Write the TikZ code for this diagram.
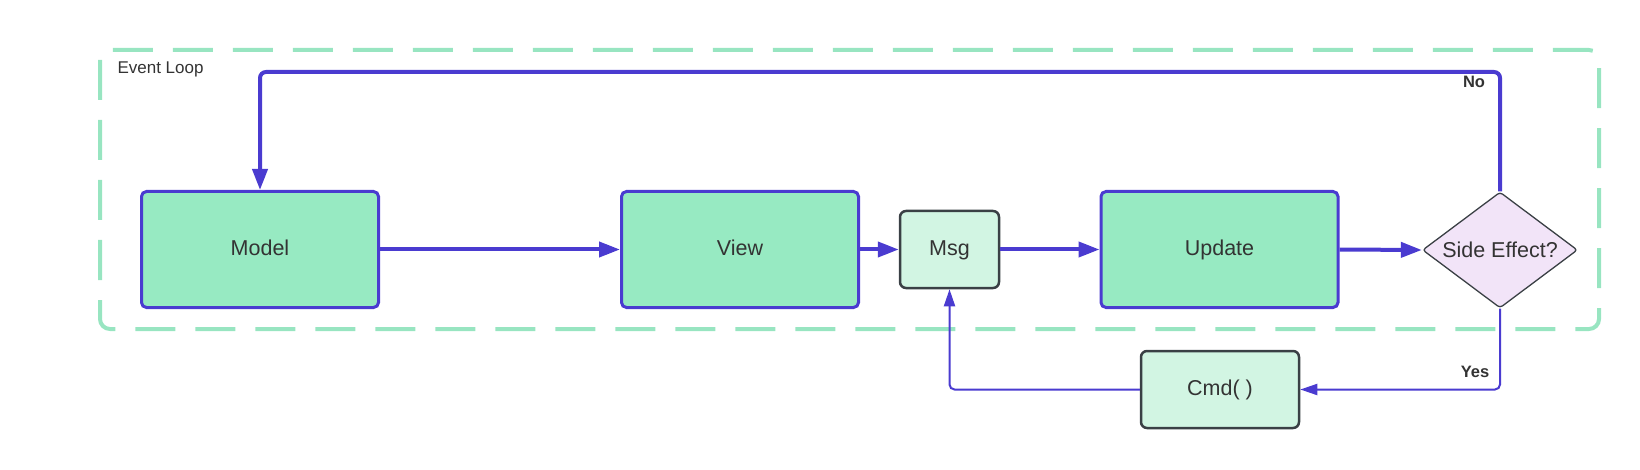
\documentclass[tikz,border=0pt]{standalone}
\usepackage{fontspec}
\setmainfont{Liberation Sans}
\usepackage{tikz}
\usetikzlibrary{arrows.meta, shapes.geometric, positioning}
\usepackage{xcolor}
\definecolor{cajaverde}{HTML}{97EAC2}
\definecolor{verdeclaro}{HTML}{D2F5E3}
\definecolor{lila}{HTML}{F2E4F8}
\definecolor{flujo}{HTML}{4A3BD0}
\definecolor{borde}{HTML}{3A4045}
\definecolor{marco}{HTML}{98E5C1}
\definecolor{texto}{HTML}{333333}

\begin{document}
\begin{tikzpicture}[x=1pt, y=-1pt,
	caja/.style={draw=flujo, line width=3pt, fill=cajaverde, rounded corners=5pt,
		minimum width=237pt, minimum height=116pt, text=texto,
		text height=15.5pt, text depth=4.5pt, font=\fontsize{21.5}{24}\selectfont},
	cajaclara/.style={draw=borde, line width=2.5pt, fill=verdeclaro, rounded corners=6pt,
		minimum height=77pt, text=texto, text height=15.5pt, text depth=4.5pt,
		font=\fontsize{21.5}{24}\selectfont},
	decision/.style={diamond, aspect=1.336, draw=borde, line width=1.3pt, fill=lila,
		rounded corners=3pt, minimum width=155pt, minimum height=116pt, inner sep=0pt,
		text=texto, font=\fontsize{21.5}{24}\selectfont},
	flecha/.style={draw=flujo, line width=4pt, -{Triangle[length=21pt, width=15pt]}},
	flechafina/.style={draw=flujo, line width=2pt, rounded corners=5pt,
		-{Triangle[length=17pt, width=11pt]}},
	etiqueta/.style={text=texto, font=\bfseries\fontsize{16.5}{18}\selectfont}]
	\useasboundingbox (0,0) rectangle (1640,470);

	% Marco del bucle (verde, discontinuo)
	\draw[marco, line width=4pt, rounded corners=10pt, dash pattern=on 40pt off 20pt]
		(100,50) rectangle (1599,329);
	\node[anchor=west, text=texto, font=\fontsize{17}{19}\selectfont] (titulo) at (114,69) {Event Loop};

	% Cajas principales
	\node[caja] (model) at (260,249.5) {Model};
	\node[caja] (view) at (740,249.5) {View};
	\node[cajaclara, minimum width=99pt] (msg) at (949.5,249.5) {Msg};
	\node[caja] (update) at (1219.5,249.5) {Update};
	\node[decision] (side) at (1500,250) {Side Effect?};
	\node[cajaclara, minimum width=158pt] (cmd) at (1220,389.5) {Cmd( )};

	% Flujo principal
	\draw[flecha] (model.east) -- (view.west);
	\draw[flecha] (view.east) -- (msg.west);
	\draw[flecha] (msg.east) -- (update.west);
	\draw[flecha] (update.east) -- (side.west);

	% Rama "No" (vuelta al modelo)
	\coordinate (vuelta) at (1500,72);
	\draw[flecha, rounded corners=6pt] (side.north) -- (vuelta) -| (model.north);
	\node[etiqueta] (no) at (1474,82) {No};

	% Rama "Yes" (comando)
	\draw[flechafina] (side.south) |- (cmd.east);
	\node[etiqueta] (yes) at (1475,372) {Yes};
	\draw[flechafina] (cmd.west) -| (msg.south);
\end{tikzpicture}
\end{document}
